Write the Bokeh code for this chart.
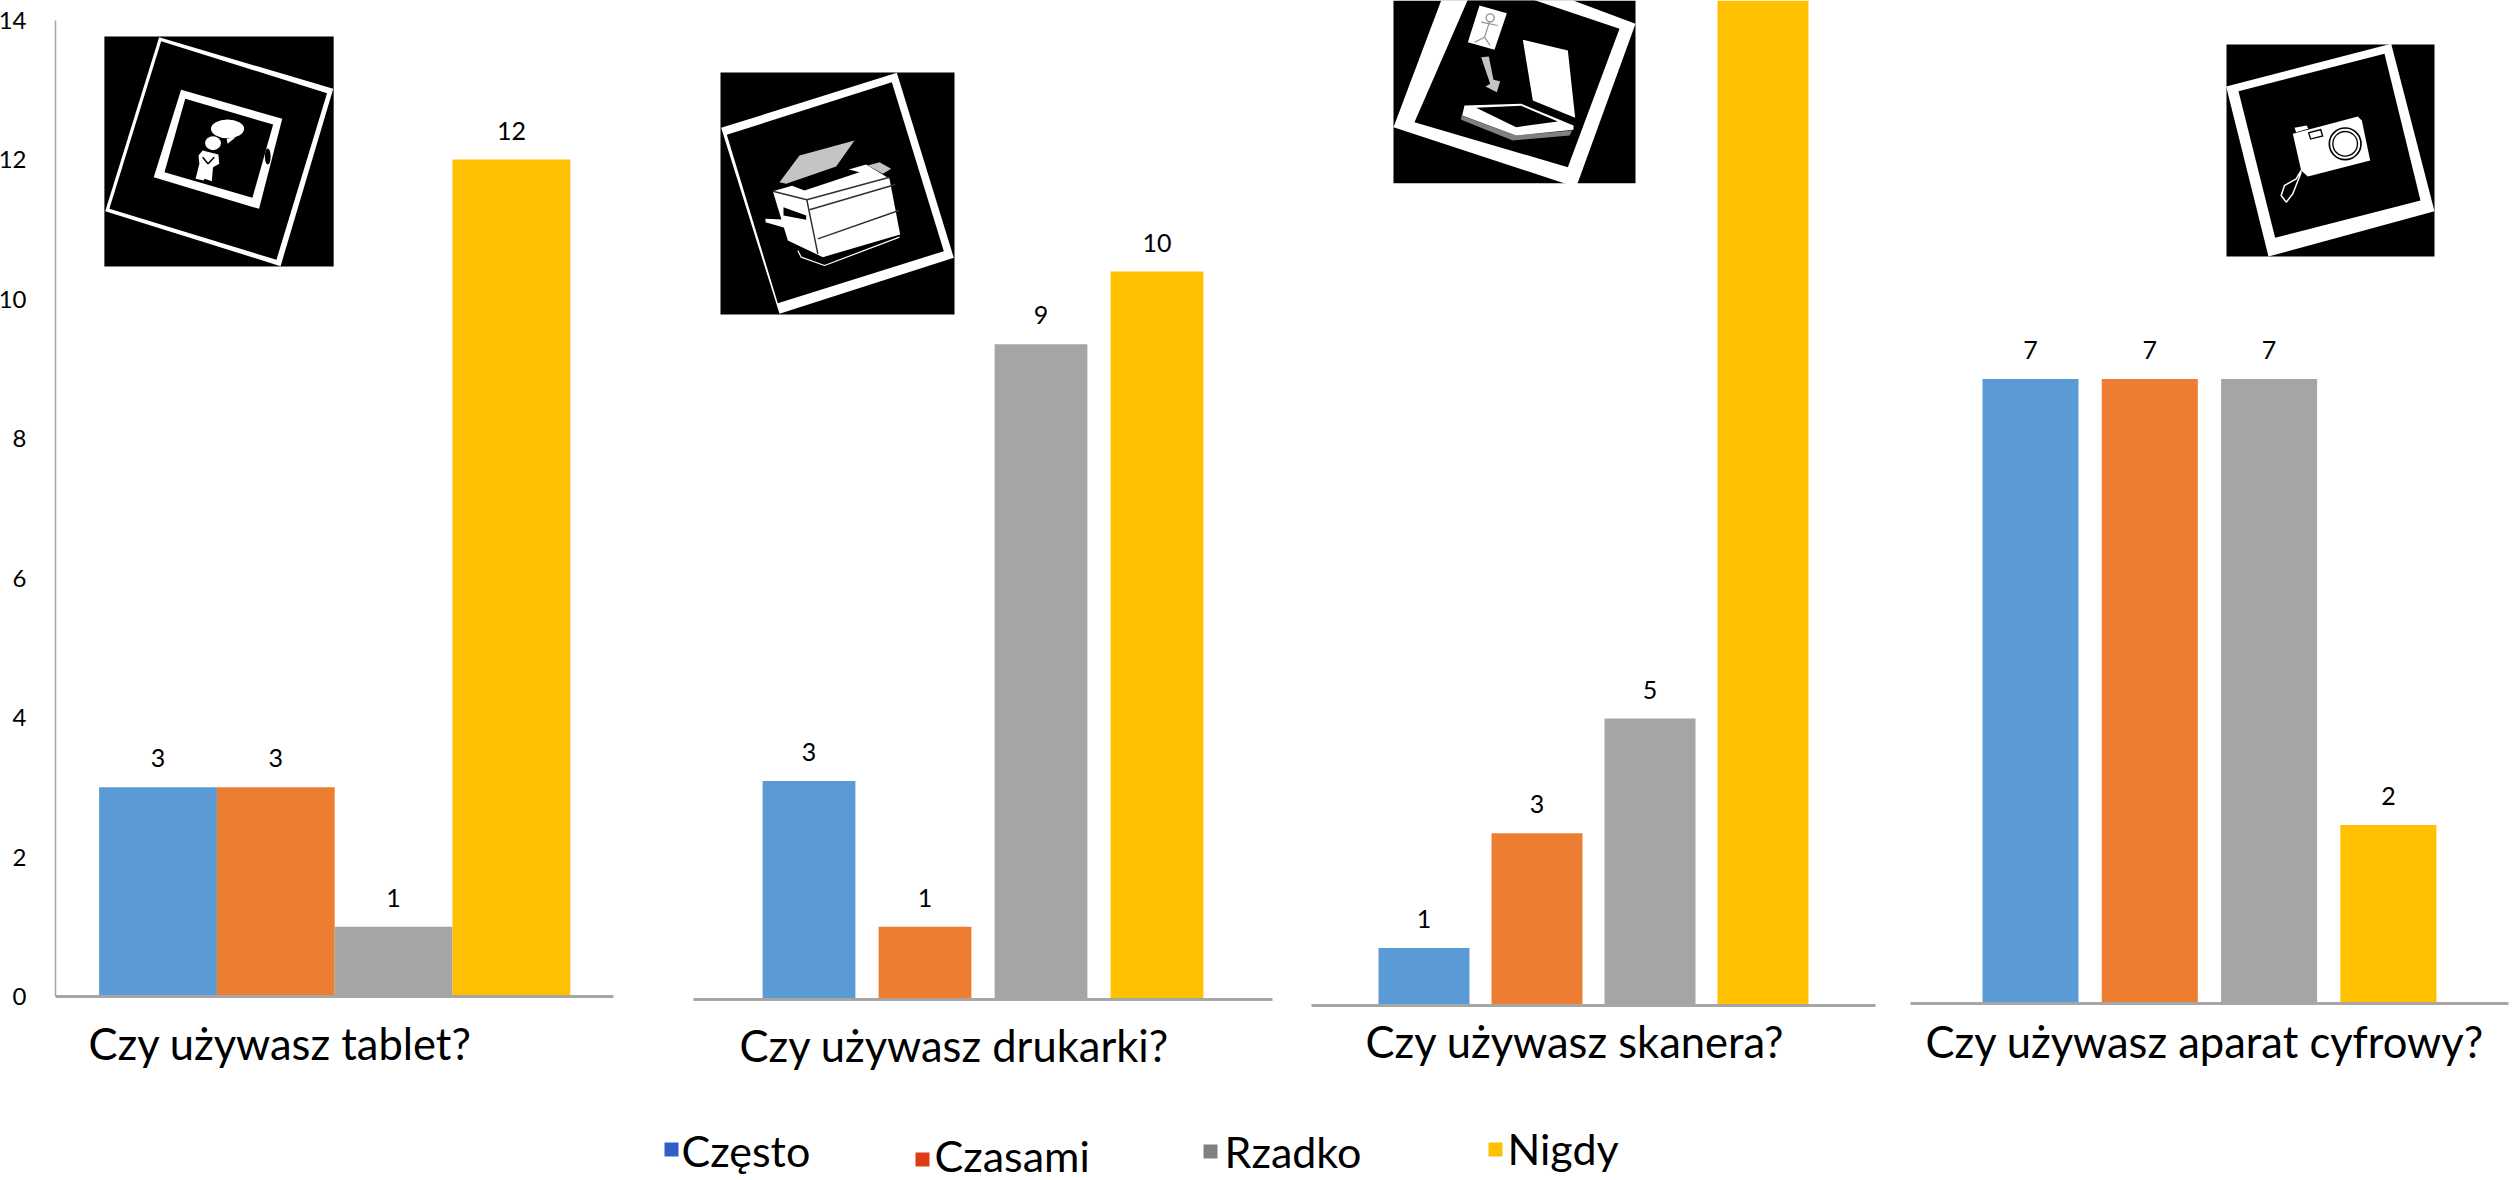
from bokeh.plotting import figure
from bokeh.embed import file_html
from bokeh.resources import INLINE
from bokeh.core.properties import value
from bokeh.models import Range1d, LinearAxis, FixedTicker

# ---------- data ----------
series = ["Często", "Czasami", "Rzadko", "Nigdy"]
colors = ["#5B9BD5", "#ED7D31", "#A5A5A5", "#FFC000"]
legend_colors = ["#2F5FC6", "#E03C14", "#808080", "#FFC000"]

questions = ["Czy używasz tablet?", "Czy używasz drukarki?", "Czy używasz skanera?", "Czy używasz aparat cyfrowy?"]
tablet = [3, 3, 1, 12]
drukarka = [3, 1, 9, 10]
skaner = [1, 3, 5, 18]       # yellow bar runs off the top of the picture: estimate
aparat = [7, 7, 7, 2]
tablet_labels = ["3", "3", "1", "12"]
drukarka_labels = ["3", "1", "9", "10"]
skaner_labels = ["1", "3", "5", ""]
aparat_labels = ["7", "7", "7", "2"]
y_ticks = [0, 2, 4, 6, 8, 10, 12, 14]

# ---------- layout (page pixels) ----------
W, H = 2519, 1180
FRAME_LEFT = 56
FONT = "Lato"
AXIS_GREY = "#A6A6A6"

# baseline y, px per unit, first bar centre, bar pitch, bar width (fraction of pitch), baseline x0, x1, title x, title centre y
panels = [
    dict(vals=tablet, labels=tablet_labels, base=996, unit=69.75, c0=158.5, pitch=117.8, bw=1.0, ax0=56, ax1=614, tx=89, ty=1042),
    dict(vals=drukarka, labels=drukarka_labels, base=999, unit=72.8, c0=809.5, pitch=116.0, bw=0.8, ax0=694, ax1=1273, tx=740, ty=1044),
    dict(vals=skaner, labels=skaner_labels, base=1005, unit=57.4, c0=1424.5, pitch=113.0, bw=0.805, ax0=1312, ax1=1876, tx=1366, ty=1040),
    dict(vals=aparat, labels=aparat_labels, base=1003, unit=89.2, c0=2031.0, pitch=119.3, bw=0.805, ax0=1911, ax1=2509, tx=1926, ty=1040),
]

p = figure(width=W, height=H, frame_width=W - FRAME_LEFT, frame_height=H,
           output_backend="svg", toolbar_location=None,
           x_range=Range1d(FRAME_LEFT, W), y_range=Range1d(panels[0]["base"] / panels[0]["unit"] - H / panels[0]["unit"], panels[0]["base"] / panels[0]["unit"]),
           x_axis_location=None, y_axis_location=None,
           min_border_left=FRAME_LEFT, min_border_right=0, min_border_top=0, min_border_bottom=0)
p.margin = (0, 0, 0, -5)
p.grid.visible = False
p.outline_line_color = None
p.background_fill_color = "white"
p.extra_x_ranges["page"] = Range1d(FRAME_LEFT, W)
p.extra_y_ranges["page"] = Range1d(H, 0)

# value axis of the first panel
axis = LinearAxis(ticker=FixedTicker(ticks=y_ticks), bounds=(0, 14))
axis.axis_line_color = AXIS_GREY
axis.axis_line_width = 1.5
axis.major_tick_line_color = None
axis.minor_tick_line_color = None
axis.major_label_text_font = FONT
axis.major_label_text_font_size = "24px"
axis.major_label_text_color = "black"
axis.major_label_standoff = 23
p.add_layout(axis, "left")

# ---------- pictograms ----------
def page(pts, ox, oy, fx, fy):
    return [ox + a / fx for a, _ in pts], [oy + b / fy for _, b in pts]

def shapes(ox, oy, fx, fy, polys):
    for color, pts in polys:
        xs, ys = page(pts, ox, oy, fx, fy)
        p.patch(xs, ys, fill_color=color, line_color=None, x_range_name="page", y_range_name="page")

def strokes(ox, oy, fx, fy, color, width, lines):
    for pts in lines:
        xs, ys = page(pts, ox, oy, fx, fy)
        p.line(xs, ys, line_color=color, line_width=width, x_range_name="page", y_range_name="page")

def ell(ox, oy, fx, fy, cx, cy, w, h, color, angle=0.0):
    p.ellipse(x=[ox + cx / fx], y=[oy + cy / fy], width=[w / fx], height=[h / fy], angle=[angle],
              fill_color=color, line_color=None, x_range_name="page", y_range_name="page")

K, Wh, LG = "#000000", "#FFFFFF", "#C4C4C4"

# tablet
t = (0, 0, 2.412, 3)
shapes(*t, [
    (K, [(253, 108), (806, 108), (806, 798), (253, 798)]),
    (Wh, [(385, 110), (805, 265), (678, 797), (255, 632)]),
    (K, [(390, 122), (790, 278), (668, 778), (265, 625)]),
    (Wh, [(438, 268), (682, 355), (626, 625), (372, 530)]),
    (K, [(448, 295), (660, 372), (610, 592), (398, 515)]),
    (Wh, [(490, 450), (528, 462), (530, 490), (515, 500), (512, 542), (495, 535), (492, 540), (473, 535), (482, 490), (480, 465)]),
    (Wh, [(548, 415), (570, 410), (550, 430)]),
])
ell(*t, 515, 428, 38, 42, Wh)
ell(*t, 550, 385, 80, 56, Wh)
ell(*t, 647, 468, 14, 48, K)
strokes(*t, K, 1.5, [[(490, 470), (503, 490), (518, 470)]])

# printer
d = (690, 40, 3, 3)
shapes(*d, [
    (K, [(93, 96), (795, 96), (795, 822), (93, 822)]),
    (Wh, [(622, 97), (793, 652), (270, 820), (95, 262)]),
    (K, [(607, 125), (763, 632), (265, 788), (112, 283)]),
    (LG, [(270, 425), (330, 345), (495, 300), (440, 378), (290, 430)]),
    (Wh, [(250, 452), (530, 372), (600, 415), (632, 582), (400, 650), (295, 600)]),
    (K, [(298, 432), (470, 385), (510, 395), (345, 450)]),
    (Wh, [(228, 535), (350, 540), (350, 550), (285, 562), (228, 545)]),
    (LG, [(535, 375), (570, 365), (605, 385), (580, 400)]),
    (K, [(282, 500), (350, 525), (350, 538), (282, 525)]),
])
strokes(*d, "#303030", 1.5, [
    [(250, 452), (352, 478), (385, 640)],
    [(352, 478), (600, 410)],
    [(360, 508), (618, 432)],
    [(385, 595), (628, 510)],
])
strokes(*d, Wh, 1.2, [[(325, 630), (335, 650), (405, 675), (630, 590)]])

# scanner
s = (1370, 0, 3, 3)
shapes(*s, [
    (K, [(72, 0), (798, 0), (798, 548), (72, 548)]),
    (Wh, [(264, -130), (798, 70), (620, 560), (72, 380)]),
    (K, [(320, -60), (750, 85), (595, 500), (135, 365)]),
    (Wh, [(330, 15), (412, 38), (375, 148), (295, 125)]),
    (Wh, [(460, 118), (595, 150), (617, 352), (490, 300)]),
    ("#808080", [(275, 345), (440, 405), (608, 390), (600, 405), (430, 420), (275, 358)]),
    (Wh, [(285, 315), (455, 310), (612, 375), (612, 388), (440, 405), (278, 345)]),
    (K, [(320, 322), (455, 316), (565, 363), (440, 380)]),
    (LG, [(335, 170), (358, 168), (372, 238), (392, 242), (382, 275), (348, 258), (362, 250)]),
])
strokes(*s, Wh, 1.2, [[(455, 382), (600, 372)], [(300, 345), (445, 392), (608, 378)]])
strokes(*s, "#909090", 1.2, [[(360, 65), (345, 110), (315, 125)], [(345, 110), (362, 135)], [(335, 65), (385, 75)]])
ell(*s, 362, 52, 28, 28, "#909090")
ell(*s, 362, 52, 20, 20, Wh)

# camera
c = (2200, 20, 3, 3)
shapes(*c, [
    (K, [(81, 72), (705, 72), (705, 708), (81, 708)]),
    (Wh, [(575, 70), (705, 572), (207, 708), (80, 198)]),
    (K, [(555, 100), (663, 540), (227, 652), (117, 212)]),
    (Wh, [(285, 322), (322, 315), (326, 325), (290, 335)]),
    (Wh, [(280, 340), (475, 288), (487, 300), (512, 420), (325, 468), (305, 450)]),
    (K, [(325, 335), (365, 325), (372, 348), (332, 358)]),
    (Wh, [(330, 338), (362, 330), (367, 345), (335, 353)]),
])
ell(*c, 437, 370, 100, 100, K)
ell(*c, 437, 370, 90, 90, Wh)
ell(*c, 437, 370, 78, 78, K)
ell(*c, 437, 370, 70, 70, Wh)
strokes(*c, Wh, 1.5, [[(305, 450), (290, 475), (255, 495), (245, 525), (260, 545), (280, 520), (305, 455)]])

# ---------- panels ----------
for i, cfg in enumerate(panels):
    xn, yn = f"px{i}", f"py{i}"
    p.extra_x_ranges[xn] = Range1d((FRAME_LEFT - cfg["c0"]) / cfg["pitch"], (W - cfg["c0"]) / cfg["pitch"])
    p.extra_y_ranges[yn] = Range1d((cfg["base"] - H) / cfg["unit"], cfg["base"] / cfg["unit"])
    idx = list(range(len(series)))
    p.vbar(x=idx, top=cfg["vals"], bottom=0, width=cfg["bw"], fill_color=colors, line_color=None,
           x_range_name=xn, y_range_name=yn)
    p.text(x=idx, y=cfg["vals"], text=cfg["labels"], y_offset=-29, text_align="center", text_baseline="middle",
           text_font=value(FONT), text_font_size="25px", text_color="black",
           x_range_name=xn, y_range_name=yn)
    p.segment(x0=[cfg["ax0"]], x1=[cfg["ax1"]], y0=[0], y1=[0], line_color=AXIS_GREY, line_width=3,
              x_range_name="page", y_range_name=yn)
    p.text(x=[cfg["tx"]], y=[cfg["ty"]], text=[questions[i]], text_align="left", text_baseline="middle",
           text_font=value(FONT), text_font_size="43.5px", text_color="black",
           x_range_name="page", y_range_name="page")

# ---------- legend (items sit at irregular heights in the reference) ----------
swatch_x = [665, 916, 1204, 1489]
swatch_y = [1142, 1152, 1144, 1142]
text_x = [682, 935, 1225, 1508]
text_y = [1150, 1155, 1151, 1148]
p.quad(left=swatch_x, right=[a + 14 for a in swatch_x], top=swatch_y, bottom=[b + 14 for b in swatch_y],
       fill_color=legend_colors, line_color=None, x_range_name="page", y_range_name="page")
p.text(x=text_x, y=text_y, text=series, text_align="left", text_baseline="middle",
       text_font=value(FONT), text_font_size="43px", text_color="black",
       x_range_name="page", y_range_name="page")

open("out.html", "w").write(file_html(p, INLINE))
